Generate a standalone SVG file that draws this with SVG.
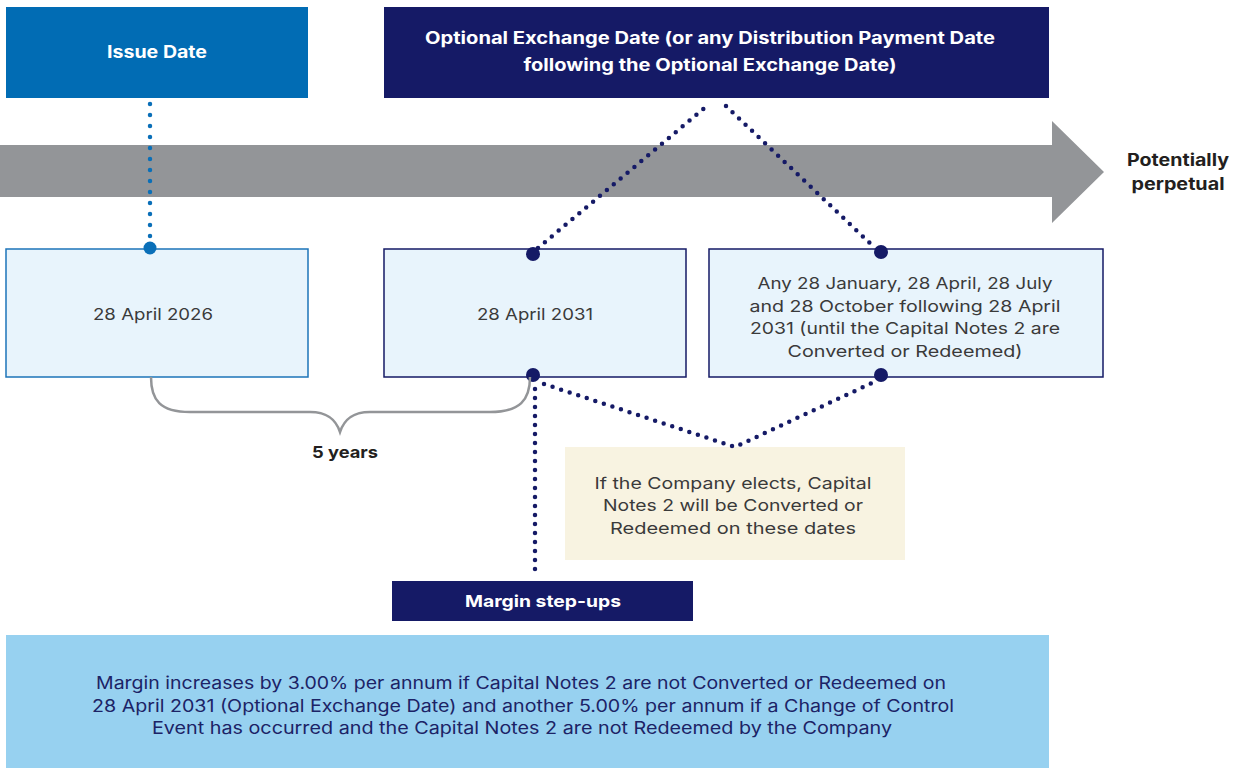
<svg xmlns="http://www.w3.org/2000/svg" width="1238" height="769" viewBox="0 0 1238 769">
<style>
.t{font-family:Inter,"Open Sans","Liberation Sans",sans-serif;}
.b{font-weight:700;}
.w{fill:#ffffff;}
.k{fill:#3a3a3a;font-size:16.5px;}
.dn{fill:none;stroke:#151A66;stroke-width:4.5;stroke-linecap:round;stroke-dasharray:0 9;}
.db{fill:none;stroke:#0A6FB8;stroke-width:4.5;stroke-linecap:round;stroke-dasharray:0 11;}
</style>
<rect width="1238" height="769" fill="#ffffff"/>
<g id="timeline">
<polygon points="0,145 1052,145 1052,121 1104,172 1052,223 1052,197 0,197" fill="#939598"/>
</g>
<g id="issue-date">
<rect x="6" y="7" width="302" height="91" fill="#016CB4"/>
<text class="t b w" x="157" y="58" font-size="17" text-anchor="middle" textLength="100" lengthAdjust="spacingAndGlyphs">Issue Date</text>
</g>
<g id="optional-exchange">
<rect x="384" y="7" width="665" height="91" fill="#151A66"/>
<text class="t b w" x="710" y="44" font-size="17" text-anchor="middle" textLength="570" lengthAdjust="spacingAndGlyphs">Optional Exchange Date (or any Distribution Payment Date</text>
<text class="t b w" x="710" y="71" font-size="17" text-anchor="middle" textLength="373" lengthAdjust="spacingAndGlyphs">following the Optional Exchange Date)</text>
</g>
<g id="perpetual">
<text class="t b" x="1178" y="166" font-size="17" fill="#231F20" text-anchor="middle" textLength="102" lengthAdjust="spacingAndGlyphs">Potentially</text>
<text class="t b" x="1178" y="190" font-size="17" fill="#231F20" text-anchor="middle" textLength="93" lengthAdjust="spacingAndGlyphs">perpetual</text>
</g>
<g id="date-2026">
<rect x="6" y="249" width="302" height="128" fill="#E8F4FC" stroke="#1D74B9" stroke-width="1.5"/>
<text class="t k" x="153" y="320" text-anchor="middle" textLength="120" lengthAdjust="spacingAndGlyphs">28 April 2026</text>
</g>
<g id="date-2031">
<rect x="384" y="249" width="302" height="128" fill="#E8F4FC" stroke="#151A66" stroke-width="1.5"/>
<text class="t k" x="535" y="320" text-anchor="middle" textLength="116" lengthAdjust="spacingAndGlyphs">28 April 2031</text>
</g>
<g id="later-dates">
<rect x="709" y="249" width="394" height="128" fill="#E8F4FC" stroke="#151A66" stroke-width="1.5"/>
<text class="t k" x="905" y="289" text-anchor="middle" textLength="295" lengthAdjust="spacingAndGlyphs">Any 28 January, 28 April, 28 July</text>
<text class="t k" x="905" y="312" text-anchor="middle" textLength="311" lengthAdjust="spacingAndGlyphs">and 28 October following 28 April</text>
<text class="t k" x="905" y="334" text-anchor="middle" textLength="310" lengthAdjust="spacingAndGlyphs">2031 (until the Capital Notes 2 are</text>
<text class="t k" x="905" y="357" text-anchor="middle" textLength="235" lengthAdjust="spacingAndGlyphs">Converted or Redeemed)</text>
</g>
<g id="company-elects">
<rect x="565" y="447" width="340" height="113" fill="#F8F3E1"/>
<text class="t k" x="733" y="489" text-anchor="middle" textLength="277" lengthAdjust="spacingAndGlyphs">If the Company elects, Capital</text>
<text class="t k" x="733" y="511" text-anchor="middle" textLength="260" lengthAdjust="spacingAndGlyphs">Notes 2 will be Converted or</text>
<text class="t k" x="733" y="534" text-anchor="middle" textLength="246" lengthAdjust="spacingAndGlyphs">Redeemed on these dates</text>
</g>
<g id="margin-step-ups">
<rect x="392" y="581" width="301" height="40" fill="#151A66"/>
<text class="t b w" x="543" y="607" font-size="16.5" text-anchor="middle" textLength="156" lengthAdjust="spacingAndGlyphs">Margin step-ups</text>
</g>
<g id="margin-detail">
<rect x="6" y="635" width="1043" height="133" fill="#97D1F0"/>
<g class="t" fill="#1C2366" font-size="17" text-anchor="middle">
<text x="521" y="689" textLength="850" lengthAdjust="spacingAndGlyphs">Margin increases by 3.00% per annum if Capital Notes 2 are not Converted or Redeemed on</text>
<text x="523" y="712" textLength="862" lengthAdjust="spacingAndGlyphs">28 April 2031 (Optional Exchange Date) and another 5.00% per annum if a Change of Control</text>
<text x="522" y="734" textLength="740" lengthAdjust="spacingAndGlyphs">Event has occurred and the Capital Notes 2 are not Redeemed by the Company</text>
</g>
</g>
<g id="connectors">
<path class="db" d="M150,104 L150,242"/>
<circle cx="150" cy="248" r="6.5" fill="#0A6FB8"/>
<path class="dn" d="M538,248 L708,105"/>
<path class="dn" d="M726,106 L875,248"/>
<circle cx="533" cy="254" r="7" fill="#151A66"/>
<circle cx="881" cy="252" r="7" fill="#151A66"/>
<circle cx="533" cy="375" r="7" fill="#151A66"/>
<circle cx="881" cy="375" r="7" fill="#151A66"/>
<path class="dn" d="M544,384 L735,447 L874,382"/>
<path class="dn" d="M535,389 L535,575"/>
<path d="M151,377 C151,400 160,412 190,412 L310,412 C328,412 336,420 340,432 C344,420 352,412 370,412 L490,412 C520,412 530,400 530,377" fill="none" stroke="#939598" stroke-width="2.5"/>
<text class="t b" x="345" y="458" font-size="16.5" fill="#231F20" text-anchor="middle" textLength="66" lengthAdjust="spacingAndGlyphs">5 years</text>
</g>
</svg>
